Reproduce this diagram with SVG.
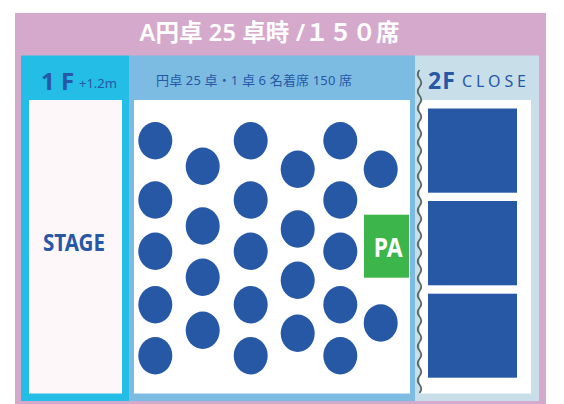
<svg xmlns="http://www.w3.org/2000/svg" width="564" height="404" viewBox="0 0 564 404">
<style>
text{font-family:"Noto Sans","Noto Sans CJK JP",sans-serif}
.t{fill:#2658a6}
.c{fill:#2658a6}
.r{fill:#2658a6}
</style>
<rect width="564" height="404" fill="#fff"/>
<rect x="15" y="13" width="531" height="391" fill="#d5a9cc"/>
<text x="139.5" y="41" font-size="23.5" font-weight="600" fill="#fff" textLength="260" lengthAdjust="spacing">A円卓 25 卓時 /１５０席</text>
<g id="stage">
<rect x="21" y="55.5" width="108" height="345.5" fill="#24bde5"/>
<rect x="29" y="100" width="93" height="293.5" fill="#fdf7fa"/>
<text x="41" y="90" font-size="24" font-weight="700" class="t">1 F</text>
<text x="79" y="87.5" font-size="13" class="t">+1.2m</text>
<text x="43" y="251.3" font-size="23" font-weight="700" class="t" textLength="62" lengthAdjust="spacingAndGlyphs">STAGE</text>
</g>
<g id="hall">
<rect x="129" y="55.5" width="286" height="345.5" fill="#7dbce2"/>
<rect x="134" y="100" width="276" height="293.5" fill="#fff"/>
<text x="156" y="85" font-size="13" class="t" textLength="196" lengthAdjust="spacing">円卓 25 卓・1 卓 6 名着席 150 席</text>
</g>
<g id="tables">
<g class="c">
<ellipse cx="155.3" cy="140.7" rx="17" ry="18.7"/><ellipse cx="155.3" cy="200" rx="17" ry="18.7"/><ellipse cx="155.3" cy="251.3" rx="17" ry="18.7"/><ellipse cx="155.3" cy="304.7" rx="17" ry="18.7"/><ellipse cx="155.3" cy="355.7" rx="17" ry="18.7"/>
<ellipse cx="202.7" cy="166.3" rx="17" ry="18.7"/><ellipse cx="202.7" cy="226" rx="17" ry="18.7"/><ellipse cx="202.7" cy="277.3" rx="17" ry="18.7"/><ellipse cx="202.7" cy="330.3" rx="17" ry="18.7"/>
<ellipse cx="250.7" cy="140.7" rx="17" ry="18.7"/><ellipse cx="250.7" cy="200" rx="17" ry="18.7"/><ellipse cx="250.7" cy="251.3" rx="17" ry="18.7"/><ellipse cx="250.7" cy="304.7" rx="17" ry="18.7"/><ellipse cx="250.7" cy="355.7" rx="17" ry="18.7"/>
<ellipse cx="297.7" cy="169.3" rx="17" ry="18.7"/><ellipse cx="297.7" cy="229" rx="17" ry="18.7"/><ellipse cx="297.7" cy="280.3" rx="17" ry="18.7"/><ellipse cx="297.7" cy="333.3" rx="17" ry="18.7"/>
<ellipse cx="340.3" cy="140.7" rx="17" ry="18.7"/><ellipse cx="340.3" cy="200" rx="17" ry="18.7"/><ellipse cx="340.3" cy="251.3" rx="17" ry="18.7"/><ellipse cx="340.3" cy="304.7" rx="17" ry="18.7"/><ellipse cx="340.3" cy="355.7" rx="17" ry="18.7"/>
<ellipse cx="380.7" cy="169.3" rx="17" ry="18.7"/><ellipse cx="380.7" cy="323" rx="17" ry="18.7"/>
</g>
</g>
<g id="pa">
<rect x="364" y="214.7" width="45" height="63" fill="#3cb54a"/>
<text x="373.7" y="257" font-size="26" font-weight="700" fill="#fff" textLength="29" lengthAdjust="spacingAndGlyphs">PA</text>
</g>
<g id="floor2">
<rect x="415" y="55.5" width="124" height="345.5" fill="#c8dfea"/>
<rect x="420" y="100" width="111" height="293.5" fill="#fff"/>
<text x="428" y="89.3" font-size="23" font-weight="700" class="t" letter-spacing="1">2F</text>
<text x="462" y="87" font-size="16" class="t" textLength="64" lengthAdjust="spacing">CLOSE</text>
<rect class="r" x="428" y="108.5" width="89" height="84.2"/>
<rect class="r" x="428" y="201" width="89" height="84.3"/>
<rect class="r" x="428" y="293.7" width="89" height="84"/>
</g>
<g id="connectors">
<path d="M419.5 70q-3.5 4.2 0 8.5t0 8.5t0 8.5t0 8.5t0 8.5t0 8.5t0 8.5t0 8.5t0 8.5t0 8.5t0 8.5t0 8.5t0 8.5t0 8.5t0 8.5t0 8.5t0 8.5t0 8.5t0 8.5t0 8.5t0 8.5t0 8.5t0 8.5t0 8.5t0 8.5t0 8.5t0 8.5t0 8.5t0 8.5t0 8.5t0 8.5t0 8.5t0 8.5t0 8.5t0 8.5t0 8.5t0 8.5t0 8.5" fill="none" stroke="#5a6660" stroke-width="1.8"/>
</g>
</svg>
